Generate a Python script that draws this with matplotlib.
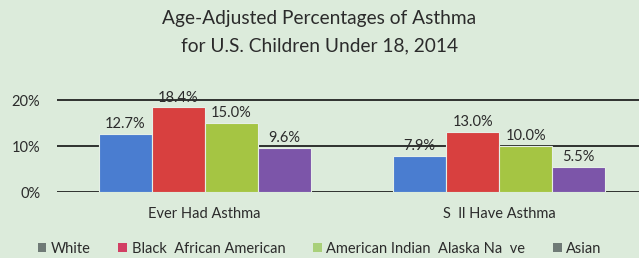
import numpy as np
import matplotlib.pyplot as plt
from matplotlib.patches import Patch

plt.rcParams['font.family'] = ['Lato', 'DejaVu Sans']

categories = ['Ever Had Asthma', 'S  ll Have Asthma']
series = ['White', 'Black  African American', 'American Indian  Alaska Na  ve', 'Asian']
white = [12.7, 7.9]
black = [18.4, 13.0]
amindian = [15.0, 10.0]
asian = [9.6, 5.5]
yticks = [0, 10, 20]

bar_colors = ['#4a7dd0', '#d8403f', '#a5c543', '#7c55a9']
legend_colors = ['#6f7a76', '#d23e63', '#a9d07a', '#6f7a76']
bg = '#dcebdb'
txt = '#2b2b2b'

fig = plt.figure(figsize=(6.39, 2.58), dpi=100, facecolor=bg)
ax = fig.add_axes([57 / 639, 1 - 192 / 258, 582 / 639, 101 / 258])
ax.set_facecolor(bg)

x = np.arange(len(categories))
w = 0.18
values = [white, black, amindian, asian]
for i, (vals, c) in enumerate(zip(values, bar_colors)):
    pos = x + (i - 1.5) * w
    bars = ax.bar(pos, vals, width=w, color=c, edgecolor='#e6efe6', linewidth=0.8, zorder=3)
    for b, v in zip(bars, vals):
        ax.text(b.get_x() + b.get_width() / 2, v + 0.6, f'{v:.1f}%', ha='center', va='bottom',
                fontsize=10.5, color=txt)

for t in yticks:
    ax.axhline(t, color='black', linewidth=1.1, zorder=1)

ax.set_xlim(-0.501, 1.475)
ax.set_ylim(0, 101 / 46 * 10)
ax.set_yticks(yticks)
ax.set_yticklabels([f'{t}%' for t in yticks], fontsize=10.5, color=txt)
ax.set_xticks(x)
ax.set_xticklabels(categories, fontsize=10.5, color=txt)
ax.tick_params(length=0, axis='y', pad=12)
ax.tick_params(length=0, axis='x', pad=11)
for s in ax.spines.values():
    s.set_visible(False)

fig.text(0.5, 1 - 32 / 258, 'Age-Adjusted Percentages of Asthma\nfor U.S. Children Under 18, 2014',
         ha='center', va='center', fontsize=13.8, color=txt, linespacing=1.75)

handles = [Patch(facecolor=c, label=s) for c, s in zip(legend_colors, series)]
fig.legend(handles=handles, loc='center', bbox_to_anchor=(0.5, 1 - 249 / 258), ncol=4,
           frameon=False, fontsize=10.5, handlelength=0.6, handleheight=0.6, handletextpad=0.3,
           columnspacing=1.9, labelcolor=txt)

fig.savefig('out.png', dpi=100, facecolor=bg)
